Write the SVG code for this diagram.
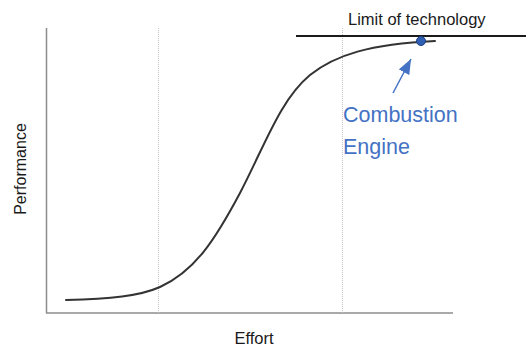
<svg xmlns="http://www.w3.org/2000/svg" width="526" height="347" viewBox="0 0 526 347">
  <style>
    .axis { stroke: #8c8c8c; stroke-width: 1.5; fill: none; }
    .grid { stroke: #c4c4c4; stroke-width: 1; stroke-dasharray: 1 1; fill: none; }
    .curve { stroke: #333333; stroke-width: 2; fill: none; stroke-linecap: round; }
    .label { font-family: "Liberation Sans", Arial, sans-serif; fill: #1a1a1a; }
    .blue { font-family: "Liberation Sans", Arial, sans-serif; fill: #4472c4; font-size: 21.5px; }
  </style>
  <defs>
    <marker id="arrowhead" viewBox="0 0 10 10" refX="10" refY="5" markerWidth="10" markerHeight="8" markerUnits="strokeWidth" orient="auto" preserveAspectRatio="none">
      <path d="M0,0 L10,5 L0,10 z" fill="#4472c4"/>
    </marker>
  </defs>

  <!-- axes -->
  <g id="axes">
    <line class="axis" x1="46.5" y1="28" x2="46.5" y2="313"/>
    <line class="axis" x1="46" y1="313" x2="453" y2="313"/>
  </g>

  <!-- dotted guides -->
  <g id="guides">
    <line class="grid" x1="158.5" y1="28" x2="158.5" y2="313"/>
    <line class="grid" x1="342.5" y1="28" x2="342.5" y2="313"/>
  </g>

  <!-- limit of technology -->
  <g id="limit">
    <line x1="296" y1="36" x2="526" y2="36" stroke="#1a1a1a" stroke-width="2"/>
    <text class="label" x="348" y="25" font-size="16.5">Limit of technology</text>
  </g>

  <!-- S-curve -->
  <g id="s-curve">
    <path class="curve" d="M66,300 C110,299 140,296 160,287 C195,271 215,240 240,193 C265,145 280,100 310,75 C335,55 370,44 435,41"/>
  </g>

  <!-- current position marker -->
  <g id="combustion-engine">
    <circle cx="421" cy="41" r="4.5" fill="#2f5fb3" stroke="#1f3f80" stroke-width="1"/>
    <text class="blue" x="343" y="122">Combustion</text>
    <text class="blue" x="343" y="154">Engine</text>
  </g>

  <g id="connectors">
    <line x1="393" y1="93" x2="411" y2="59" stroke="#4472c4" stroke-width="1.5" marker-end="url(#arrowhead)"/>
  </g>

  <!-- axis titles -->
  <g id="axis-labels">
    <text class="label" x="254" y="344" font-size="16.5" text-anchor="middle">Effort</text>
    <text class="label" transform="translate(26,169) rotate(-90)" font-size="16" text-anchor="middle">Performance</text>
  </g>
</svg>
